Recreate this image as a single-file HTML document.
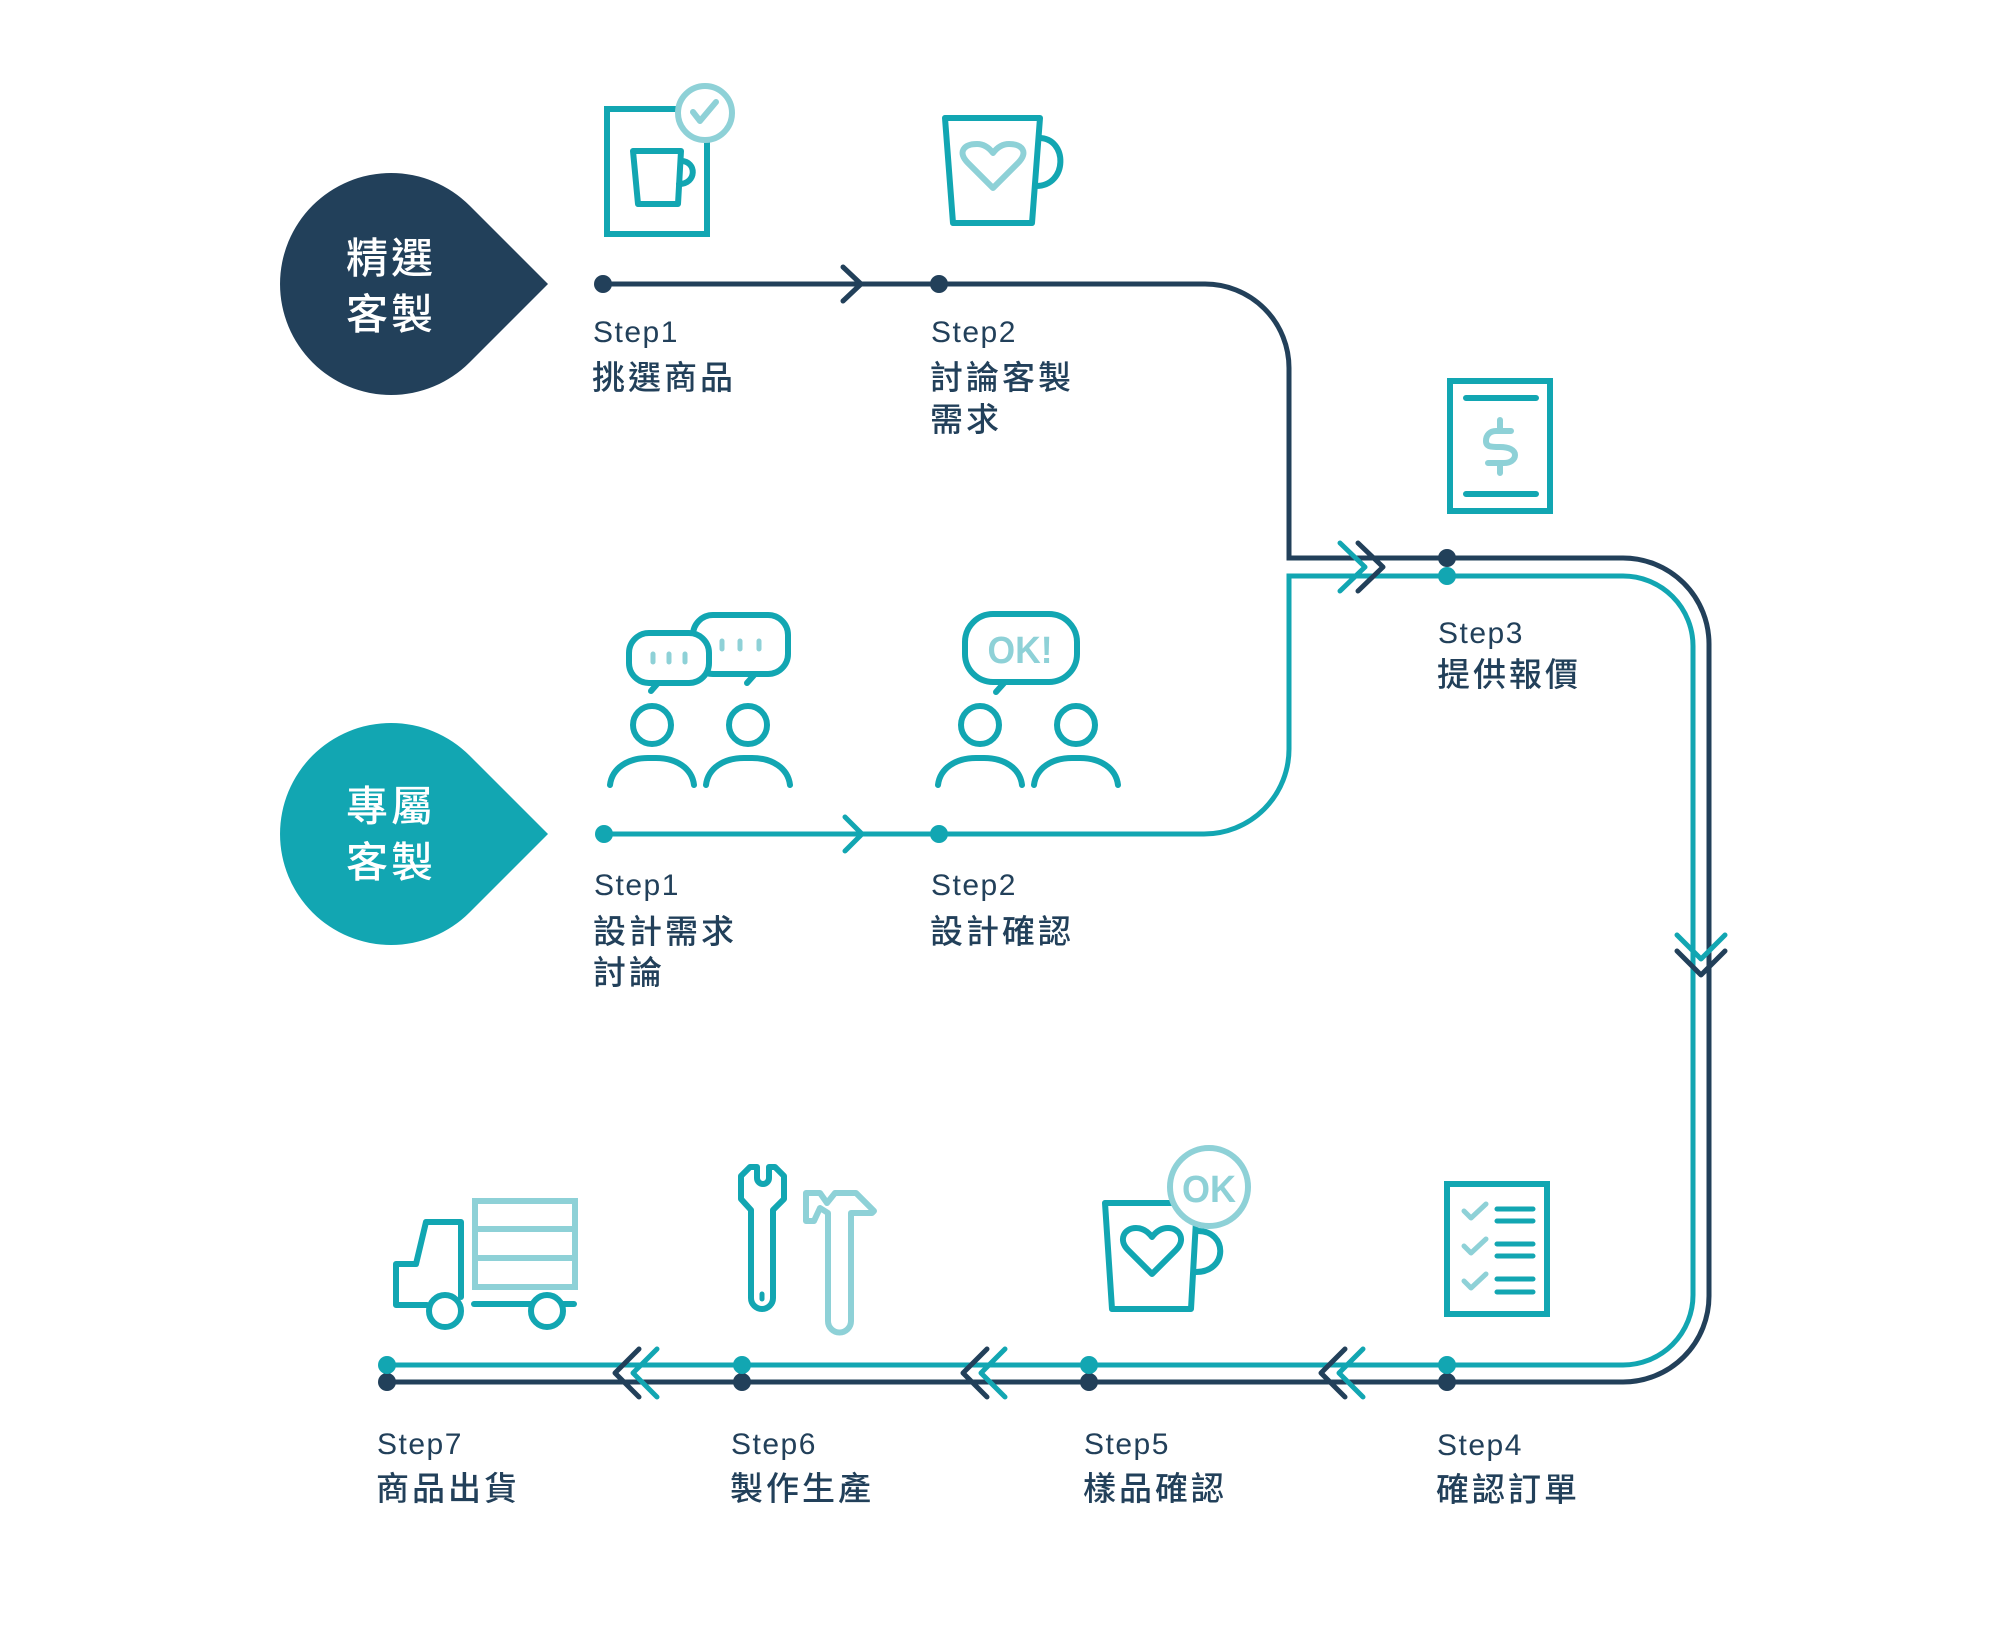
<!DOCTYPE html>
<html><head><meta charset="utf-8"><style>
html,body{margin:0;padding:0;background:#fff;}
svg{display:block;}
.st{font-family:"Liberation Sans",sans-serif;font-size:30px;letter-spacing:1.5px;fill:#22405a;}
.cj{font-family:"Liberation Sans","Noto Sans CJK TC",sans-serif;font-size:33px;letter-spacing:3px;fill:#22405a;font-weight:500;}
.tw{font-family:"Liberation Sans","Noto Sans CJK TC",sans-serif;font-size:42px;letter-spacing:3px;fill:#fff;font-weight:500;}
</style></head><body>
<svg width="2000" height="1647" viewBox="0 0 2000 1647" xmlns="http://www.w3.org/2000/svg">
<!-- teardrops -->
<path d="M548,284 L469.5,205.5 A111,111 0 1 0 469.5,362.5 Z" fill="#22405a"/>
<path d="M548,834 L469.5,755.5 A111,111 0 1 0 469.5,912.5 Z" fill="#12a6b2"/>
<text class="tw" x="346" y="273">精選</text>
<text class="tw" x="346" y="329">客製</text>
<text class="tw" x="346" y="821">專屬</text>
<text class="tw" x="346" y="877">客製</text>

<!-- main lines -->
<g fill="none" stroke-width="5">
<path d="M603,284 H1205 A84,84 0 0 1 1289,368 V558 H1623 A86,86 0 0 1 1709,644 V1296 A86,86 0 0 1 1623,1382 H387" stroke="#22405a"/>
<path d="M604,834 H1204 A85,85 0 0 0 1289,749 V576 H1623 A70,70 0 0 1 1693,646 V1295 A70,70 0 0 1 1623,1365 H387" stroke="#12a6b2"/>
</g>
<!-- chevrons -->
<g fill="none" stroke-width="5" stroke-linecap="round" stroke-linejoin="round">
<path d="M843,267 L861,284 L843,301" stroke="#22405a"/>
<path d="M845,817 L862,834 L845,851" stroke="#12a6b2"/>
<path d="M1340,543 L1365,567 L1340,591" stroke="#12a6b2"/>
<path d="M1358,543 L1383,567 L1358,591" stroke="#22405a"/>
<path d="M1677,935 L1701,959 L1725,935" stroke="#12a6b2"/>
<path d="M1677,951 L1701,975 L1725,951" stroke="#22405a"/>
<path d="M1345,1349 L1321,1373 L1345,1397" stroke="#22405a"/>
<path d="M1363,1349 L1339,1373 L1363,1397" stroke="#12a6b2"/>
<path d="M987,1349 L963,1373 L987,1397" stroke="#22405a"/>
<path d="M1005,1349 L981,1373 L1005,1397" stroke="#12a6b2"/>
<path d="M639,1349 L615,1373 L639,1397" stroke="#22405a"/>
<path d="M657,1349 L633,1373 L657,1397" stroke="#12a6b2"/>
</g>
<!-- dots -->
<g fill="#22405a">
<circle cx="603" cy="284" r="9"/><circle cx="939" cy="284" r="9"/>
<circle cx="1447" cy="558" r="9"/>
<circle cx="1447" cy="1382" r="9"/><circle cx="1089" cy="1382" r="9"/>
<circle cx="742" cy="1382" r="9"/><circle cx="387" cy="1382" r="9"/>
</g>
<g fill="#12a6b2">
<circle cx="604" cy="834" r="9"/><circle cx="939" cy="834" r="9"/>
<circle cx="1447" cy="576" r="9"/>
<circle cx="1447" cy="1365" r="9"/><circle cx="1089" cy="1365" r="9"/>
<circle cx="742" cy="1365" r="9"/><circle cx="387" cy="1365" r="9"/>
</g>

<!-- labels -->
<text class="st" x="593" y="342">Step1</text>
<text class="cj" x="592" y="389">挑選商品</text>
<text class="st" x="931" y="342">Step2</text>
<text class="cj" x="930" y="389">討論客製</text>
<text class="cj" x="930" y="431">需求</text>
<text class="st" x="1438" y="643">Step3</text>
<text class="cj" x="1437" y="686">提供報價</text>
<text class="st" x="594" y="895">Step1</text>
<text class="cj" x="593" y="943">設計需求</text>
<text class="cj" x="593" y="984">討論</text>
<text class="st" x="931" y="895">Step2</text>
<text class="cj" x="930" y="943">設計確認</text>
<text class="st" x="1437" y="1455">Step4</text>
<text class="cj" x="1436" y="1501">確認訂單</text>
<text class="st" x="1084" y="1454">Step5</text>
<text class="cj" x="1083" y="1500">樣品確認</text>
<text class="st" x="731" y="1454">Step6</text>
<text class="cj" x="730" y="1500">製作生產</text>
<text class="st" x="377" y="1454">Step7</text>
<text class="cj" x="376" y="1500">商品出貨</text>

<!-- icons -->
<g fill="none" stroke-width="6" stroke-linecap="round" stroke-linejoin="round">
<!-- icon 1: card with cup + check -->
<rect x="607" y="109" width="100" height="125" stroke="#12a6b2" fill="#fff" stroke-linejoin="miter"/>
<path d="M633,151 L681,151 L678,204 L638,204 Z" stroke="#12a6b2"/>
<path d="M681,161 C697,161 697,184 679,184" stroke="#12a6b2"/>
<circle cx="705" cy="113" r="27" stroke="#8ed1d7" fill="#fff"/>
<path d="M693,112 L700,121 L716,102" stroke="#8ed1d7"/>

<!-- icon 2: mug with heart -->
<path d="M945,118 L1040,118 L1032,223 L953,223 Z" stroke="#12a6b2"/>
<path d="M1039,138 C1068,138 1068,186 1036,186" stroke="#12a6b2"/>
<path d="M993,188 L968,163 C957,152 964,144 977,144 C985,144 990,149 993,153 C996,149 1001,144 1009,144 C1022,144 1029,152 1018,163 Z" stroke="#8ed1d7"/>

<!-- icon 3: dollar doc -->
<rect x="1450" y="381" width="100" height="130" stroke="#12a6b2" stroke-linejoin="miter"/>
<path d="M1466,398 H1536 M1466,494 H1536" stroke="#12a6b2"/>
<path d="M1500,420 V431 M1511,431 H1496 C1490,431 1486,435 1486,441 C1486,447 1491,447 1500,447 C1509,447 1515,450 1515,455 C1515,460 1510,463 1504,463 H1488 M1500,463 V473" stroke="#8ed1d7"/>

<!-- people icon 1 -->
<rect x="693" y="615" width="95" height="59" rx="20" stroke="#12a6b2" fill="#fff"/>
<path d="M755,674 L747,683" stroke="#12a6b2"/>
<rect x="629" y="633" width="80" height="50" rx="20" stroke="#12a6b2" fill="#fff"/>
<path d="M658,683 L651,691" stroke="#12a6b2"/>
<path d="M653,654 V662 M669,654 V662 M685,654 V662 M722,641 V649 M740,641 V649 M759,641 V649" stroke="#8ed1d7" stroke-width="5"/>
<circle cx="652" cy="725" r="19" stroke="#12a6b2"/>
<circle cx="748" cy="725" r="19" stroke="#12a6b2"/>
<path d="M610,785 C612,768 628,758 648,758 L656,758 C676,758 692,768 694,785" stroke="#12a6b2"/>
<path d="M706,785 C708,768 724,758 744,758 L752,758 C772,758 788,768 790,785" stroke="#12a6b2"/>

<!-- people icon 2 -->
<rect x="965" y="614" width="112" height="68" rx="28" stroke="#12a6b2" fill="#fff"/>
<path d="M1005,682 L996,692" stroke="#12a6b2"/>
<circle cx="980" cy="725" r="19" stroke="#12a6b2"/>
<circle cx="1076" cy="725" r="19" stroke="#12a6b2"/>
<path d="M938,785 C940,768 956,758 976,758 L984,758 C1004,758 1020,768 1022,785" stroke="#12a6b2"/>
<path d="M1034,785 C1036,768 1052,758 1072,758 L1080,758 C1100,758 1116,768 1118,785" stroke="#12a6b2"/>

<!-- checklist -->
<rect x="1447" y="1184" width="100" height="130" stroke="#12a6b2" stroke-linejoin="miter"/>
<path d="M1497,1209 H1533 M1497,1221 H1533 M1497,1244 H1533 M1497,1256 H1533 M1497,1279 H1533 M1497,1292 H1533" stroke="#12a6b2" stroke-width="5"/>
<path d="M1464,1211 L1471,1218 L1486,1204 M1464,1246 L1471,1253 L1486,1239 M1464,1281 L1471,1288 L1486,1274" stroke="#8ed1d7" stroke-width="5"/>

<!-- mug OK -->
<path d="M1105,1203 L1197,1203 L1191,1309 L1112,1309 Z" stroke="#12a6b2"/>
<path d="M1198,1231 C1228,1231 1228,1272 1196,1272" stroke="#12a6b2"/>
<path d="M1152,1274 L1128,1250 C1118,1240 1124,1228 1136,1228 C1144,1228 1149,1233 1152,1237 C1155,1233 1160,1228 1168,1228 C1180,1228 1186,1240 1176,1250 Z" stroke="#12a6b2"/>
<circle cx="1209" cy="1187" r="39" stroke="#8ed1d7" fill="#fff"/>

<!-- wrench -->
<path d="M751,1210 L741,1199 L741,1176 L750,1167 L757,1167 L757,1178 A6,6 0 0 0 769,1178 L769,1167 L775,1167 L784,1176 L784,1199 L773,1210 L773,1298 A11,11 0 0 1 751,1298 Z" stroke="#12a6b2"/>
<path d="M762,1294 V1299" stroke="#12a6b2" stroke-width="5"/>
<!-- hammer -->
<path d="M806,1193 L820,1193 L827,1203 L835,1193 L856,1193 L874,1211 L872,1213 L851,1213 L851,1321 A11.5,11.5 0 0 1 828,1321 L828,1213 L820,1208 L814,1221 L806,1221 Z" stroke="#8ed1d7"/>

<!-- truck -->
<rect x="475" y="1201" width="100" height="86" stroke="#8ed1d7" stroke-linejoin="miter"/>
<path d="M475,1229 H575 M475,1258 H575" stroke="#8ed1d7"/>
<path d="M427,1305 L396,1305 L396,1264 L416,1264 L426,1222 L461,1222 L461,1297" stroke="#12a6b2"/>
<path d="M474,1304 L574,1304" stroke="#12a6b2"/>
<circle cx="445" cy="1311" r="16" stroke="#12a6b2" fill="#fff"/>
<circle cx="547" cy="1311" r="16" stroke="#12a6b2" fill="#fff"/>
</g>
<text x="1020" y="663" font-family="Liberation Sans, sans-serif" font-weight="bold" font-size="38" fill="#8ed1d7" text-anchor="middle" textLength="65" lengthAdjust="spacingAndGlyphs">OK!</text>
<text x="1209" y="1202" font-family="Liberation Sans, sans-serif" font-weight="bold" font-size="38" fill="#8ed1d7" text-anchor="middle" textLength="54" lengthAdjust="spacingAndGlyphs">OK</text>
</svg>
</body></html>
